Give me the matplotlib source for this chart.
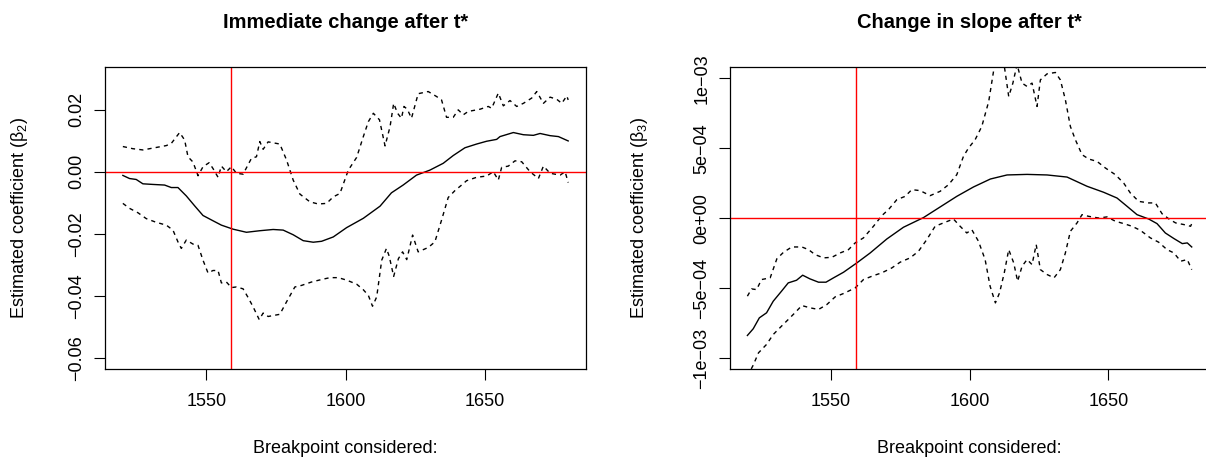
import numpy as np
import matplotlib
matplotlib.use("Agg")
import matplotlib.pyplot as plt

plt.rcParams['font.family'] = ['Liberation Sans', 'DejaVu Sans']
plt.rcParams['mathtext.fontset'] = 'custom'
plt.rcParams['mathtext.rm'] = 'Liberation Sans'
plt.rcParams['mathtext.it'] = 'Liberation Sans:italic'

# ---- data: immediate change (beta2) ----
b2_est_x = [1520, 1522.4, 1524.8, 1527.2, 1530.8, 1535, 1537.4, 1539.8, 1542.8, 1545.8,
            1548.8, 1552.4, 1555.4, 1559.6, 1564.4, 1569.2, 1574, 1577.6, 1581.2, 1584.8,
            1588.4, 1591.4, 1595.6, 1600.4, 1606.4, 1612.4, 1616.5, 1620.7, 1625.5, 1630.3,
            1635.1, 1638.7, 1642.9, 1647.1, 1650.7, 1654.3, 1655.5, 1660.3, 1663.9, 1667.5,
            1669.9, 1673.5, 1676.5, 1680]
b2_est = [-0.0012, -0.0022, -0.0025, -0.0039, -0.0041, -0.0043, -0.0051, -0.0051, -0.0078, -0.011,
          -0.0141, -0.0158, -0.0172, -0.0185, -0.0195, -0.0190, -0.0186, -0.0188, -0.0203, -0.0222,
          -0.0227, -0.0224, -0.0210, -0.0180, -0.0150, -0.0111, -0.0068, -0.0043, -0.0011, 0.0005,
          0.0027, 0.0052, 0.0077, 0.0089, 0.0098, 0.0104, 0.0113, 0.0126, 0.0119, 0.0117,
          0.0123, 0.0116, 0.0113, 0.0099]

b2_hi_x = [1520, 1523.6, 1527.2, 1530.8, 1535.6, 1537.4, 1540.4, 1542.2, 1543.4, 1545.2,
           1547, 1548.8, 1551, 1552.4, 1554.2, 1555.4, 1557.2, 1559, 1560.8, 1563.2,
           1566.2, 1568, 1569.2, 1570.4, 1572.2, 1576.4, 1578.8, 1581.2, 1583.6, 1587.2,
           1590.2, 1593.2, 1595.6, 1598, 1601, 1604, 1606.4, 1608.2, 1610, 1612.2,
           1614.2, 1616, 1617.3, 1618.7, 1620.1, 1621, 1622.2, 1623.7, 1626.1, 1629.7,
           1632.7, 1634.5, 1636.3, 1638.7, 1640.5, 1642.3, 1644.1, 1648.3, 1651.3, 1652.5,
           1654.9, 1656.7, 1659.1, 1661.5, 1663.9, 1666.9, 1668.7, 1671.1, 1673.5, 1675.9,
           1677.7, 1679.5, 1680]
b2_hi = [0.0081, 0.0074, 0.0070, 0.0076, 0.0084, 0.0091, 0.0126, 0.0102, 0.0048, 0.0031,
         -0.0013, 0.0016, 0.0029, 0.0010, -0.0018, 0.0018, 0.0000, 0.0016, -0.0005, -0.0008,
         0.0043, 0.0048, 0.0097, 0.0072, 0.0096, 0.0089, 0.0038, -0.0027, -0.0072, -0.0097,
         -0.0104, -0.0102, -0.0081, -0.0070, 0.0005, 0.0046, 0.0113, 0.0161, 0.0188, 0.0167,
         0.0083, 0.0145, 0.0220, 0.0188, 0.0172, 0.0210, 0.0201, 0.0172, 0.0251, 0.0258,
         0.0242, 0.0231, 0.0175, 0.0175, 0.0199, 0.0183, 0.0194, 0.0201, 0.0210, 0.0204,
         0.0253, 0.0212, 0.0229, 0.0210, 0.0220, 0.0237, 0.0258, 0.0220, 0.0240, 0.0233,
         0.0220, 0.0244, 0.0231]

b2_lo_x = [1520, 1522.4, 1525.4, 1528.4, 1532, 1535.6, 1538, 1539.8, 1541, 1542.8,
           1545.2, 1547, 1548.8, 1550.6, 1552.4, 1554.2, 1555.4, 1557.2, 1559, 1560.8,
           1563.2, 1565, 1566.8, 1569, 1570.4, 1572.2, 1576.4, 1578.8, 1581.8, 1584.2,
           1587.8, 1591.4, 1594.4, 1597.4, 1600.4, 1604, 1606.4, 1608.2, 1609.7, 1611.2,
           1613, 1614.7, 1615.7, 1617.3, 1619, 1620.5, 1622, 1624.1, 1626.1, 1629.7,
           1632.1, 1634.5, 1636.9, 1639.3, 1641.7, 1643.5, 1647.1, 1650.7, 1653.1, 1654.9,
           1656.1, 1658.5, 1660.9, 1663.3, 1666.3, 1669.3, 1671.1, 1673.5, 1677.1, 1678.9,
           1680]
b2_lo = [-0.0102, -0.0118, -0.0132, -0.0151, -0.0163, -0.0172, -0.0188, -0.0226, -0.0247, -0.0220,
         -0.0233, -0.0237, -0.0285, -0.0326, -0.0318, -0.0318, -0.0358, -0.0355, -0.0373, -0.0371,
         -0.0377, -0.0405, -0.0435, -0.0476, -0.0455, -0.0466, -0.0459, -0.0419, -0.0371, -0.0366,
         -0.0355, -0.0347, -0.0341, -0.0341, -0.0349, -0.0362, -0.0380, -0.0398, -0.0433, -0.0403,
         -0.0285, -0.0247, -0.0272, -0.0337, -0.0280, -0.0258, -0.0283, -0.0204, -0.0258, -0.0244,
         -0.0226, -0.0156, -0.0083, -0.0061, -0.0043, -0.0029, -0.0018, -0.0014, 0.0000, -0.0027,
         0.0014, 0.0018, 0.0035, 0.0032, 0.0000, -0.0022, 0.0018, -0.0005, -0.0011, 0.0000,
         -0.0035]

# ---- data: change in slope (beta3), units of 1e-4 ----
b3_est_x = [1520, 1522.1, 1524.3, 1526.9, 1529.3, 1532.3, 1534.7, 1537.7, 1539.9, 1542.5,
            1545.6, 1548.3, 1551, 1554.6, 1559.4, 1564.2, 1570.2, 1576.2, 1583.4, 1589.4,
            1595.4, 1601.4, 1607.5, 1613.5, 1620.7, 1627.9, 1635.1, 1642.3, 1648.3, 1653.1,
            1656.7, 1660.3, 1664.5, 1667.5, 1670.5, 1673.6, 1676.6, 1678.4, 1680]
b3_est = [-8.38, -7.9, -7.12, -6.76, -5.93, -5.21, -4.62, -4.43, -4.07, -4.33,
          -4.57, -4.57, -4.26, -3.86, -3.19, -2.48, -1.48, -0.64, 0.05, 0.81,
          1.57, 2.24, 2.81, 3.10, 3.14, 3.10, 2.95, 2.29, 1.86, 1.45,
          0.86, 0.26, -0.05, -0.38, -1.05, -1.45, -1.81, -1.76, -2.05]

b3_hi_x = [1520, 1521.5, 1523.3, 1525.1, 1528.2, 1530.6, 1533, 1536, 1539.6, 1542,
           1544.4, 1547.4, 1550.4, 1553.4, 1556.4, 1558.8, 1561.8, 1565.4, 1568.4, 1570.8,
           1573.8, 1576.8, 1579.2, 1582.2, 1585.8, 1589.4, 1592.4, 1595.4, 1597.8, 1599.6,
           1602, 1604.4, 1606.9, 1608.7, 1610.5, 1612.5, 1614.1, 1615.6, 1617.1, 1618.9,
           1620.7, 1622.5, 1624.3, 1625.5, 1627.9, 1630.9, 1632.7, 1634.5, 1636.3, 1638.1,
           1640.5, 1642.9, 1645.9, 1648.9, 1652.5, 1655.5, 1657.9, 1660.9, 1664.5, 1666.9,
           1669.3, 1671.8, 1674.2, 1677.2, 1679.6, 1680]
b3_hi = [-5.57, -5.05, -5.10, -4.38, -4.26, -2.90, -2.43, -2.05, -2.05, -2.24,
         -2.60, -2.83, -2.79, -2.48, -2.24, -1.76, -1.40, -0.57, 0.19, 0.62,
         1.33, 1.57, 2.05, 1.98, 1.62, 1.93, 2.40, 3.12, 4.43, 5.02,
         5.62, 6.57, 8.36, 10.6, 11.6, 10.9, 8.71, 9.67, 11.0, 9.67,
         9.43, 9.67, 8.00, 9.90, 10.33, 10.43, 9.90, 8.48, 6.57, 5.62,
         4.55, 4.24, 4.07, 3.60, 3.12, 2.52, 1.81, 1.21, 1.10, 1.10,
         0.33, -0.05, -0.33, -0.45, -0.57, -0.38]

b3_lo_x = [1520, 1522.1, 1524, 1526.9, 1529.3, 1532.3, 1534.7, 1537.1, 1539.6, 1542.5,
           1545.6, 1548.6, 1551.6, 1554.6, 1558.8, 1561.8, 1565.4, 1568.4, 1572, 1575,
           1578.6, 1581.6, 1584.6, 1587.6, 1590.6, 1594.2, 1596.6, 1599, 1600.8, 1603.2,
           1605.6, 1607.4, 1609.3, 1610.8, 1612.5, 1614.1, 1615.9, 1617.3, 1618.9, 1620.7,
           1622.5, 1624, 1625.5, 1627.9, 1630.4, 1632.7, 1634.5, 1636.3, 1638.7, 1640.5,
           1642.9, 1646.5, 1649.5, 1652.5, 1655.5, 1658.5, 1661.5, 1665.1, 1668.1, 1671.1,
           1673.6, 1676, 1678.4, 1680]
b3_lo = [-11.3, -10.5, -9.62, -9.02, -8.31, -7.71, -7.24, -6.76, -6.24, -6.40,
         -6.52, -6.17, -5.62, -5.38, -4.98, -4.38, -4.10, -3.90, -3.55, -3.14,
         -2.83, -2.36, -1.52, -0.57, -0.33, -0.05, -0.57, -1.05, -0.81, -1.64,
         -2.95, -4.86, -6.05, -5.33, -3.90, -2.24, -3.19, -4.50, -3.43, -2.95,
         -3.31, -1.88, -3.67, -4.02, -4.26, -3.67, -2.48, -0.93, -0.33, 0.26,
         0.14, 0.02, 0.10, -0.21, -0.38, -0.57, -0.86, -1.40, -1.71, -2.24,
         -2.48, -3.07, -2.95, -3.67]

breakpoint = 1559
b2_ticks = [-0.06, -0.04, -0.02, 0.00, 0.02]
b2_labels = ['\u22120.06', '\u22120.04', '\u22120.02', '0.00', '0.02']
b3_ticks = [-1e-3, -5e-4, 0, 5e-4, 1e-3]
b3_labels = ['\u22121e\u221203', '\u22125e\u221204', '0e+00', '5e\u221204', '1e\u221203']
x_ticks = [1550, 1600, 1650]

fig = plt.figure(figsize=(12.06, 4.68), dpi=100)
ax1 = fig.add_axes([0.0871, 0.2109, 0.3988, 0.6453])
ax2 = fig.add_axes([0.6050, 0.2109, 0.3979, 0.6453])


def style(ax, ticks, labels):
    ax.set_xlim(1513.6, 1686.4)
    ax.set_xticks(x_ticks)
    ax.set_xticklabels([str(t) for t in x_ticks])
    ax.set_yticks(ticks)
    ax.set_yticklabels(labels, rotation=90, va='center')
    ax.tick_params(axis='both', direction='out', length=8, width=0.8, labelsize=13)
    ax.tick_params(axis='x', pad=9)
    ax.tick_params(axis='y', pad=6)
    for s in ax.spines.values():
        s.set_linewidth(0.9)
    ax.set_xlabel('Breakpoint considered:', fontsize=13)


# left panel
ax1.plot(b2_est_x, b2_est, color='black', lw=1.0)
ax1.plot(b2_hi_x, b2_hi, color='black', lw=1.0, dashes=(3, 3))
ax1.plot(b2_lo_x, b2_lo, color='black', lw=1.0, dashes=(3, 3))
ax1.axvline(breakpoint, color='red', lw=1.0)
ax1.axhline(0, color='red', lw=1.0)
ax1.set_ylim(-0.0636, 0.0336)
style(ax1, b2_ticks, b2_labels)
ax1.set_ylabel('Estimated coefficient (\u03b2$_2$)', fontsize=13)
ax1.set_title('Immediate change after t*', fontsize=14.5, fontweight='bold', y=1.13, pad=0)

# right panel
ax2.plot(b3_est_x, np.array(b3_est) * 1e-4, color='black', lw=1.0)
ax2.plot(b3_hi_x, np.array(b3_hi) * 1e-4, color='black', lw=1.0, dashes=(3, 3))
ax2.plot(b3_lo_x, np.array(b3_lo) * 1e-4, color='black', lw=1.0, dashes=(3, 3))
ax2.axvline(breakpoint, color='red', lw=1.0)
ax2.axhline(0, color='red', lw=1.0)
ax2.set_ylim(-1.08e-3, 1.08e-3)
style(ax2, b3_ticks, b3_labels)
ax2.set_ylabel('Estimated coefficient (\u03b2$_3$)', fontsize=13)
ax2.set_title('Change in slope after t*', fontsize=14.5, fontweight='bold', y=1.13, pad=0)

ax1.yaxis.set_label_coords(-0.155, 0.5)
ax2.yaxis.set_label_coords(-0.165, 0.5)
ax1.xaxis.set_label_coords(0.5, -0.235)
ax2.xaxis.set_label_coords(0.5, -0.235)

fig.savefig('out.png', dpi=100)
